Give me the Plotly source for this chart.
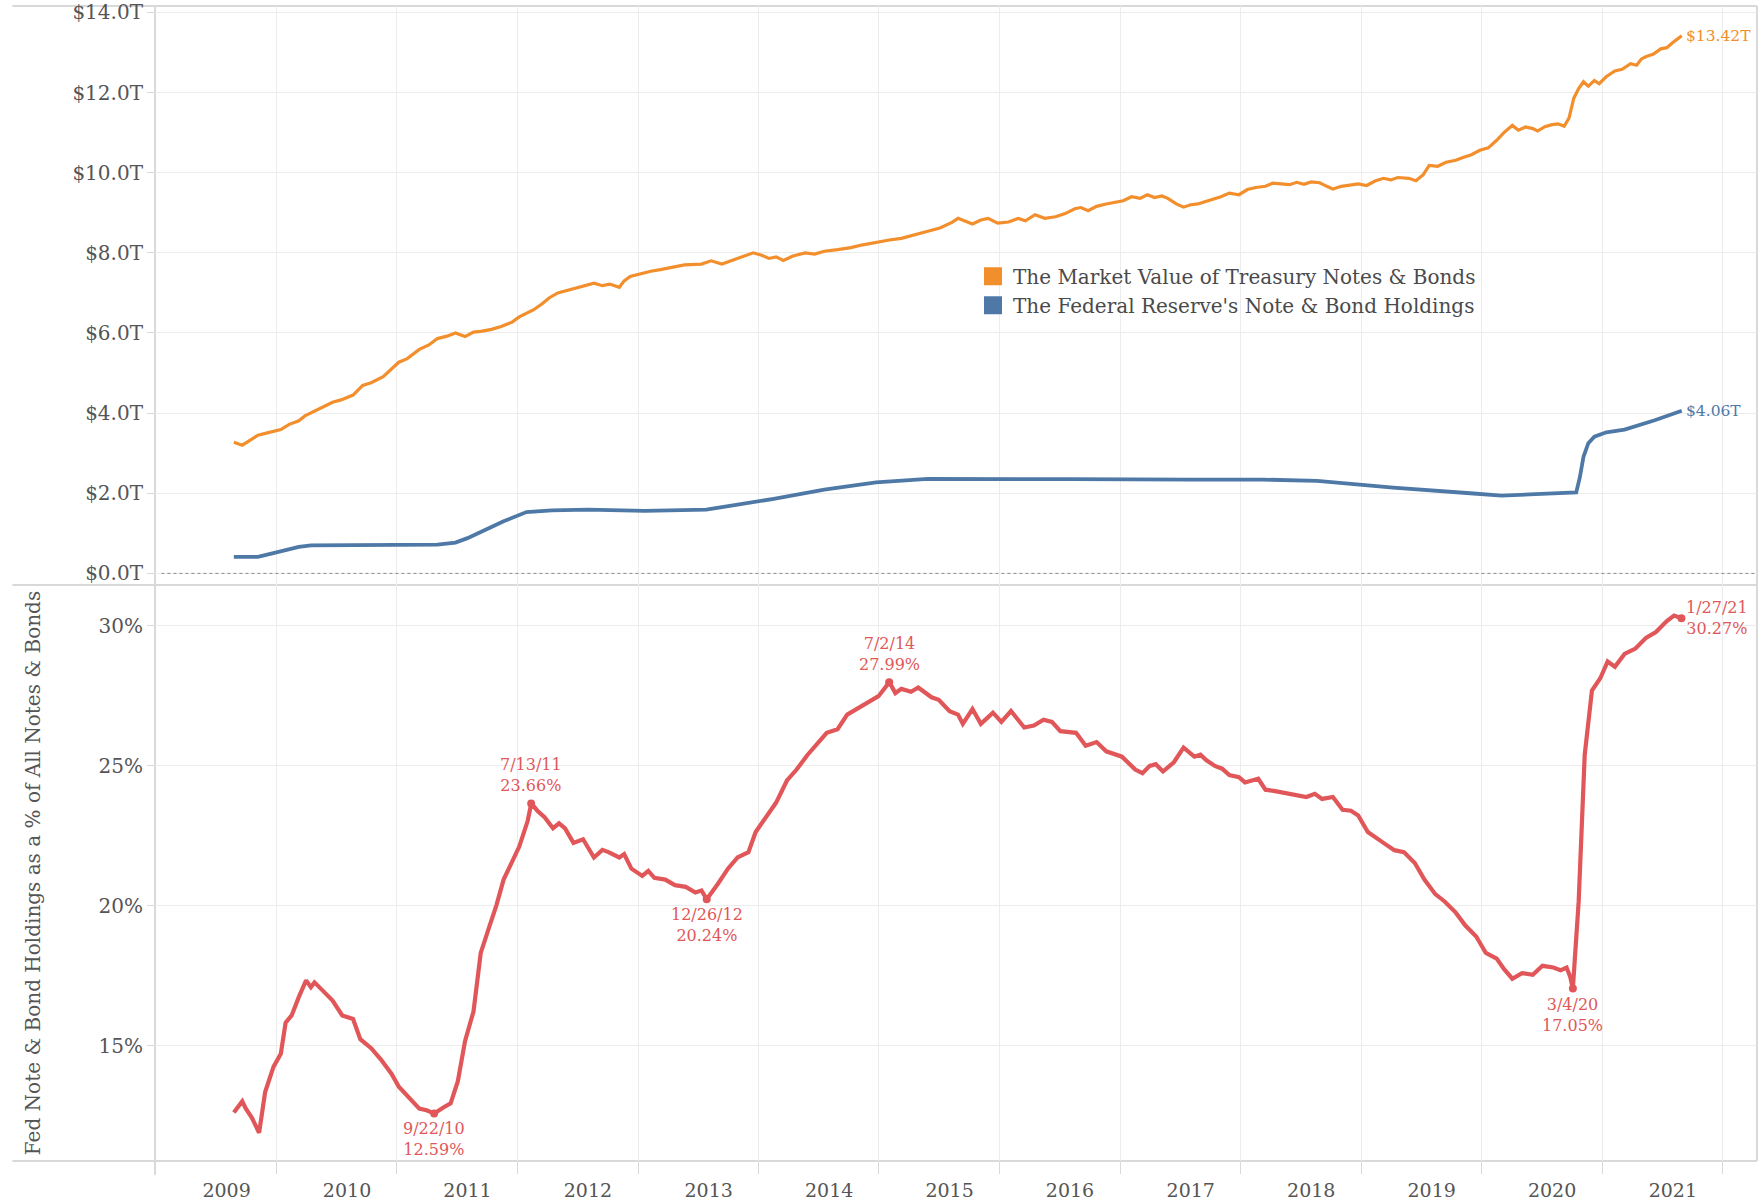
import datetime as dt

import plotly.graph_objects as go
from plotly.subplots import make_subplots

# Market value of Treasury notes & bonds, $T (decimal year, value)
mv_years = [
    2009.06, 2009.13, 2009.20, 2009.26, 2009.33, 2009.40, 2009.45, 2009.52, 2009.60, 2009.65,
    2009.70, 2009.78, 2009.88, 2009.95, 2010.05, 2010.13, 2010.20, 2010.30, 2010.36, 2010.43,
    2010.50, 2010.60, 2010.68, 2010.75, 2010.83, 2010.90, 2010.98, 2011.05, 2011.11, 2011.20,
    2011.28, 2011.37, 2011.43, 2011.49, 2011.55, 2011.62, 2011.68, 2011.75, 2011.85, 2011.96,
    2012.05, 2012.12, 2012.18, 2012.26, 2012.30, 2012.35, 2012.43, 2012.52, 2012.60, 2012.69,
    2012.80, 2012.94, 2013.02, 2013.11, 2013.20, 2013.28, 2013.37, 2013.44, 2013.50, 2013.56,
    2013.62, 2013.70, 2013.80, 2013.88, 2013.96, 2014.07, 2014.18, 2014.28, 2014.39, 2014.50,
    2014.60, 2014.70, 2014.82, 2014.92, 2015.02, 2015.07, 2015.13, 2015.19, 2015.26, 2015.32,
    2015.40, 2015.49, 2015.57, 2015.63, 2015.71, 2015.79, 2015.88, 2015.96, 2016.04, 2016.09,
    2016.15, 2016.22, 2016.30, 2016.37, 2016.44, 2016.51, 2016.58, 2016.64, 2016.70, 2016.76,
    2016.81, 2016.88, 2016.94, 2017.00, 2017.06, 2017.11, 2017.18, 2017.25, 2017.32, 2017.40,
    2017.47, 2017.54, 2017.62, 2017.68, 2017.75, 2017.82, 2017.88, 2017.94, 2018.00, 2018.07,
    2018.13, 2018.18, 2018.25, 2018.32, 2018.39, 2018.46, 2018.53, 2018.60, 2018.66, 2018.72,
    2018.81, 2018.87, 2018.93, 2018.98, 2019.05, 2019.12, 2019.20, 2019.26, 2019.33, 2019.40,
    2019.47, 2019.54, 2019.60, 2019.67, 2019.72, 2019.78, 2019.84, 2019.88, 2019.94, 2020.00,
    2020.05, 2020.10, 2020.14, 2020.18, 2020.22, 2020.26, 2020.30, 2020.35, 2020.39, 2020.45,
    2020.52, 2020.58, 2020.65, 2020.70, 2020.74, 2020.78, 2020.84, 2020.90, 2020.95, 2021.00,
    2021.03, 2021.074,
]
market_value = [
    3.27, 3.20, 3.33, 3.45, 3.50, 3.55, 3.59, 3.72, 3.81, 3.93,
    4.00, 4.12, 4.27, 4.33, 4.45, 4.69, 4.76, 4.91, 5.08, 5.27,
    5.36, 5.59, 5.70, 5.86, 5.92, 6.00, 5.91, 6.02, 6.04, 6.09,
    6.16, 6.27, 6.40, 6.50, 6.58, 6.73, 6.88, 7.00, 7.08, 7.18,
    7.24, 7.18, 7.22, 7.14, 7.30, 7.41, 7.48, 7.54, 7.58, 7.63,
    7.70, 7.72, 7.80, 7.72, 7.82, 7.90, 8.00, 7.94, 7.86, 7.90,
    7.81, 7.92, 8.00, 7.97, 8.04, 8.08, 8.13, 8.20, 8.27, 8.32,
    8.36, 8.45, 8.54, 8.62, 8.76, 8.86, 8.80, 8.72, 8.82, 8.86,
    8.74, 8.77, 8.86, 8.80, 8.95, 8.86, 8.90, 8.98, 9.10, 9.13,
    9.05, 9.16, 9.22, 9.26, 9.30, 9.40, 9.36, 9.45, 9.38, 9.42,
    9.36, 9.22, 9.14, 9.20, 9.22, 9.27, 9.33, 9.40, 9.49, 9.45,
    9.58, 9.63, 9.66, 9.74, 9.72, 9.70, 9.76, 9.71, 9.77, 9.75,
    9.66, 9.59, 9.66, 9.70, 9.72, 9.68, 9.79, 9.86, 9.82, 9.88,
    9.86, 9.80, 9.95, 10.18, 10.16, 10.26, 10.31, 10.38, 10.45, 10.56,
    10.62, 10.81, 11.00, 11.18, 11.06, 11.14, 11.10, 11.04, 11.15, 11.20,
    11.22, 11.16, 11.36, 11.86, 12.10, 12.27, 12.16, 12.30, 12.22, 12.40,
    12.54, 12.58, 12.72, 12.68, 12.84, 12.90, 12.96, 13.09, 13.12, 13.25,
    13.31, 13.42,
]

# Federal Reserve's note & bond holdings, $T
fed_years = [
    2009.06, 2009.26, 2009.38, 2009.49, 2009.60, 2009.70, 2010.00, 2010.50, 2010.75, 2010.90,
    2011.00, 2011.15, 2011.30, 2011.49, 2011.70, 2012.00, 2012.20, 2012.47, 2012.98, 2013.25,
    2013.54, 2013.96, 2014.39, 2014.82, 2015.20, 2016.00, 2017.00, 2017.60, 2018.05, 2018.68,
    2019.32, 2019.58, 2019.96, 2020.20, 2020.23, 2020.26, 2020.30, 2020.35, 2020.45, 2020.60,
    2020.85, 2021.074,
]
fed_holdings = [
    0.41, 0.41, 0.50, 0.59, 0.66, 0.70, 0.71, 0.71, 0.72, 0.77,
    0.88, 1.09, 1.30, 1.53, 1.57, 1.59, 1.57, 1.56, 1.59, 1.72,
    1.86, 2.09, 2.27, 2.36, 2.35, 2.35, 2.34, 2.34, 2.31, 2.14,
    2.00, 1.94, 1.99, 2.02, 2.40, 2.91, 3.25, 3.41, 3.52, 3.59,
    3.82, 4.06,
]

# Fed holdings as a % of all notes & bonds
pct_years = [
    2009.06, 2009.10, 2009.13, 2009.16, 2009.21, 2009.27, 2009.32, 2009.39, 2009.45, 2009.49,
    2009.54, 2009.60, 2009.66, 2009.70, 2009.73, 2009.79, 2009.88, 2009.96, 2010.05, 2010.11,
    2010.20, 2010.28, 2010.37, 2010.43, 2010.51, 2010.60, 2010.66, 2010.724, 2010.80, 2010.86,
    2010.92, 2010.98, 2011.05, 2011.11, 2011.18, 2011.24, 2011.30, 2011.37, 2011.43, 2011.50,
    2011.53, 2011.58, 2011.64, 2011.71, 2011.76, 2011.81, 2011.88, 2011.96, 2012.05, 2012.12,
    2012.17, 2012.26, 2012.30, 2012.36, 2012.45, 2012.50, 2012.55, 2012.64, 2012.72, 2012.81,
    2012.89, 2012.94, 2012.984, 2013.08, 2013.16, 2013.24, 2013.33, 2013.39, 2013.48, 2013.56,
    2013.65, 2013.73, 2013.82, 2013.90, 2013.98, 2014.07, 2014.15, 2014.28, 2014.41, 2014.50,
    2014.55, 2014.60, 2014.68, 2014.74, 2014.79, 2014.85, 2014.91, 2015.00, 2015.07, 2015.11,
    2015.19, 2015.26, 2015.36, 2015.43, 2015.51, 2015.62, 2015.70, 2015.78, 2015.85, 2015.92,
    2016.05, 2016.13, 2016.22, 2016.30, 2016.43, 2016.54, 2016.60, 2016.66, 2016.71, 2016.77,
    2016.86, 2016.94, 2017.03, 2017.08, 2017.13, 2017.20, 2017.26, 2017.32, 2017.40, 2017.45,
    2017.56, 2017.62, 2017.70, 2017.79, 2017.88, 2017.96, 2018.03, 2018.09, 2018.18, 2018.26,
    2018.33, 2018.39, 2018.47, 2018.53, 2018.60, 2018.69, 2018.77, 2018.86, 2018.94, 2019.03,
    2019.11, 2019.20, 2019.28, 2019.37, 2019.45, 2019.54, 2019.60, 2019.67, 2019.75, 2019.84,
    2019.92, 2020.01, 2020.07, 2020.12, 2020.15, 2020.172, 2020.22, 2020.27, 2020.33, 2020.40,
    2020.46, 2020.52, 2020.60, 2020.69, 2020.78, 2020.86, 2020.95, 2021.01, 2021.074,
]
fed_share = [
    12.62, 12.82, 13.02, 12.76, 12.43, 11.90, 13.35, 14.26, 14.72, 15.83,
    16.09, 16.75, 17.34, 17.10, 17.27, 17.01, 16.62, 16.09, 15.96, 15.24,
    14.92, 14.52, 14.00, 13.54, 13.15, 12.76, 12.70, 12.59, 12.80, 12.95,
    13.74, 15.18, 16.23, 18.32, 19.24, 20.02, 20.94, 21.60, 22.12, 23.04,
    23.66, 23.40, 23.17, 22.77, 22.95, 22.77, 22.25, 22.38, 21.73, 22.00,
    21.92, 21.73, 21.85, 21.33, 21.07, 21.25, 21.00, 20.94, 20.74, 20.68,
    20.48, 20.55, 20.24, 20.81, 21.33, 21.73, 21.92, 22.64, 23.17, 23.69,
    24.48, 24.87, 25.39, 25.79, 26.18, 26.31, 26.83, 27.16, 27.49, 27.99,
    27.60, 27.75, 27.65, 27.80, 27.62, 27.45, 27.36, 26.95, 26.83, 26.50,
    27.03, 26.50, 26.90, 26.57, 26.96, 26.37, 26.44, 26.65, 26.57, 26.24,
    26.18, 25.72, 25.85, 25.52, 25.33, 24.87, 24.74, 25.00, 25.06, 24.80,
    25.13, 25.65, 25.33, 25.40, 25.20, 25.00, 24.90, 24.67, 24.60, 24.41,
    24.54, 24.15, 24.10, 24.02, 23.95, 23.89, 24.00, 23.82, 23.89, 23.43,
    23.40, 23.23, 22.64, 22.45, 22.25, 21.99, 21.92, 21.53, 20.94, 20.42,
    20.15, 19.76, 19.30, 18.91, 18.32, 18.12, 17.75, 17.40, 17.60, 17.54,
    17.86, 17.80, 17.70, 17.80, 17.47, 17.05, 20.15, 25.39, 27.69, 28.14,
    28.73, 28.54, 29.00, 29.19, 29.58, 29.78, 30.17, 30.37, 30.27,
]

# labelled highs / lows of the share
note_dates = ['2010-09-22', '2011-07-13', '2012-12-26', '2014-07-02', '2020-03-04', '2021-01-27']
note_values = [12.59, 23.66, 20.24, 27.99, 17.05, 30.27]
note_side = ['below', 'above', 'below', 'above', 'below', 'right']

FONT = 'DejaVu Serif'
ORANGE = '#f28e2b'
BLUE = '#4e79a7'
RED = '#e15759'
GRID = '#ececec'
LINE = '#d9d9d9'
TEXT = '#555555'


def to_date(y):
    """decimal year -> datetime"""
    year = int(y)
    start = dt.datetime(year, 1, 1)
    days = (dt.datetime(year + 1, 1, 1) - start).days
    return start + dt.timedelta(days=(y - year) * days)


mv_dates = [to_date(y) for y in mv_years]
fed_dates = [to_date(y) for y in fed_years]
pct_dates = [to_date(y) for y in pct_years]

fig = make_subplots(rows=2, cols=1, shared_xaxes=True, vertical_spacing=0)

fig.add_trace(go.Scatter(
    x=mv_dates, y=market_value, mode='lines', showlegend=False,
    line=dict(color=ORANGE, width=3.2),
), row=1, col=1)
fig.add_trace(go.Scatter(
    x=fed_dates, y=fed_holdings, mode='lines', showlegend=False,
    line=dict(color=BLUE, width=3.8),
), row=1, col=1)

# legend swatches (squares, like the original)
for name, color in [('The Market Value of Treasury Notes & Bonds', ORANGE),
                    ("The Federal Reserve's Note & Bond Holdings", BLUE)]:
    fig.add_trace(go.Scatter(
        x=[None], y=[None], mode='markers', name=name,
        marker=dict(symbol='square', size=16, color=color, line=dict(color=color, width=2)),
    ), row=1, col=1)

fig.add_trace(go.Scatter(
    x=pct_dates, y=fed_share, mode='lines', showlegend=False,
    line=dict(color=RED, width=4.2),
), row=2, col=1)
fig.add_trace(go.Scatter(
    x=note_dates, y=note_values, mode='markers', showlegend=False,
    marker=dict(color=RED, size=8),
), row=2, col=1)

# end labels on the top panel
for dates, vals, color in [(mv_dates, market_value, ORANGE), (fed_dates, fed_holdings, BLUE)]:
    fig.add_annotation(
        x=dates[-1], y=vals[-1], xref='x', yref='y', text=f'${vals[-1]:.2f}T',
        showarrow=False, xanchor='left', yanchor='middle', xshift=2,
        font=dict(family=FONT, size=15.5, color=color),
    )

# date / value labels on the bottom panel
for d, v, side in zip(note_dates, note_values, note_side):
    y, m, day = d.split('-')
    label = f'{int(m)}/{int(day)}/{y[2:]}<br>{v:.2f}%'
    if side == 'above':
        kw = dict(xanchor='center', yanchor='bottom', yshift=6)
    elif side == 'below':
        kw = dict(xanchor='center', yanchor='top', yshift=-4)
    else:
        kw = dict(xanchor='left', yanchor='middle', xshift=3)
    fig.add_annotation(
        x=d, y=v, xref='x2', yref='y2', text=label, showarrow=False,
        font=dict(family=FONT, size=16, color=RED), **kw,
    )

x_range = ['2008-05-29', '2021-09-13']
grid_minor = dict(dtick='M12', tick0='2009-06-01', showgrid=True, gridcolor=GRID, gridwidth=1)

fig.update_xaxes(range=x_range, showgrid=False, zeroline=False, showline=False, automargin=False)
fig.update_xaxes(showticklabels=False, ticks='', minor=dict(grid_minor, ticks=''), row=1, col=1)
fig.update_xaxes(
    dtick='M12', tick0='2009-01-01', tickformat='%Y',
    ticks='outside', ticklen=12, tickcolor='rgba(0,0,0,0)',
    minor=dict(grid_minor, ticks='outside', ticklen=12, tickcolor=LINE),
    tickfont=dict(family=FONT, size=19, color=TEXT),
    row=2, col=1,
)

fig.update_yaxes(
    range=[-0.29, 14.16], dtick=2, tick0=0, tickformat='.1f', tickprefix='$', ticksuffix='T',
    ticks='outside', ticklen=7, tickcolor=LINE, showgrid=True, gridcolor=GRID,
    zeroline=False, showline=False, automargin=False,
    tickfont=dict(family=FONT, size=20, color=TEXT),
    domain=[0.4987, 1], row=1, col=1,
)
fig.update_yaxes(
    range=[10.89, 31.46], dtick=5, tick0=0, ticksuffix='%',
    ticks='outside', ticklen=7, tickcolor=LINE, showgrid=True, gridcolor=GRID,
    zeroline=False, showline=False, automargin=False,
    tickfont=dict(family=FONT, size=20, color=TEXT),
    title=dict(text='Fed Note & Bond Holdings as a % of All Notes & Bonds',
               font=dict(family=FONT, size=20, color=TEXT), standoff=52),
    domain=[0, 0.4987], row=2, col=1,
)

# dotted zero line on the top panel
fig.add_shape(type='line', xref='x domain', yref='y', x0=0.004, x1=1, y0=0, y1=0,
              line=dict(color='#8a8a8a', width=1, dash='dot'))

# panel borders (Tableau style), kept under the tick labels
for yp in [1.0, 0.4987, 0.0]:
    fig.add_shape(type='line', xref='paper', yref='paper', x0=-0.089, x1=1, y0=yp, y1=yp,
                  layer='below', line=dict(color=LINE, width=2))
fig.add_shape(type='line', xref='paper', yref='paper', x0=0, x1=0, y0=-0.012, y1=1,
              layer='below', line=dict(color=LINE, width=2))
fig.add_shape(type='line', xref='paper', yref='paper', x0=1, x1=1, y0=0, y1=1,
              layer='below', line=dict(color=LINE, width=2))

fig.update_layout(
    width=1763, height=1202,
    margin=dict(l=155, r=6, t=6, b=41, autoexpand=False),
    plot_bgcolor='white', paper_bgcolor='white',
    font=dict(family=FONT, size=19, color=TEXT),
    showlegend=True,
    legend=dict(
        x=0.5106, y=0.783, xanchor='left', yanchor='top',
        bgcolor='rgba(255,255,255,0)', tracegroupgap=0, itemsizing='trace',
        font=dict(family=FONT, size=20, color='#4a4a4a'),
    ),
)

# the default page has an 8px body margin; drop it so the figure sits at the corner
fig.write_html('out.html', config={'displayModeBar': False},
               post_script="document.body.style.margin='0';")
